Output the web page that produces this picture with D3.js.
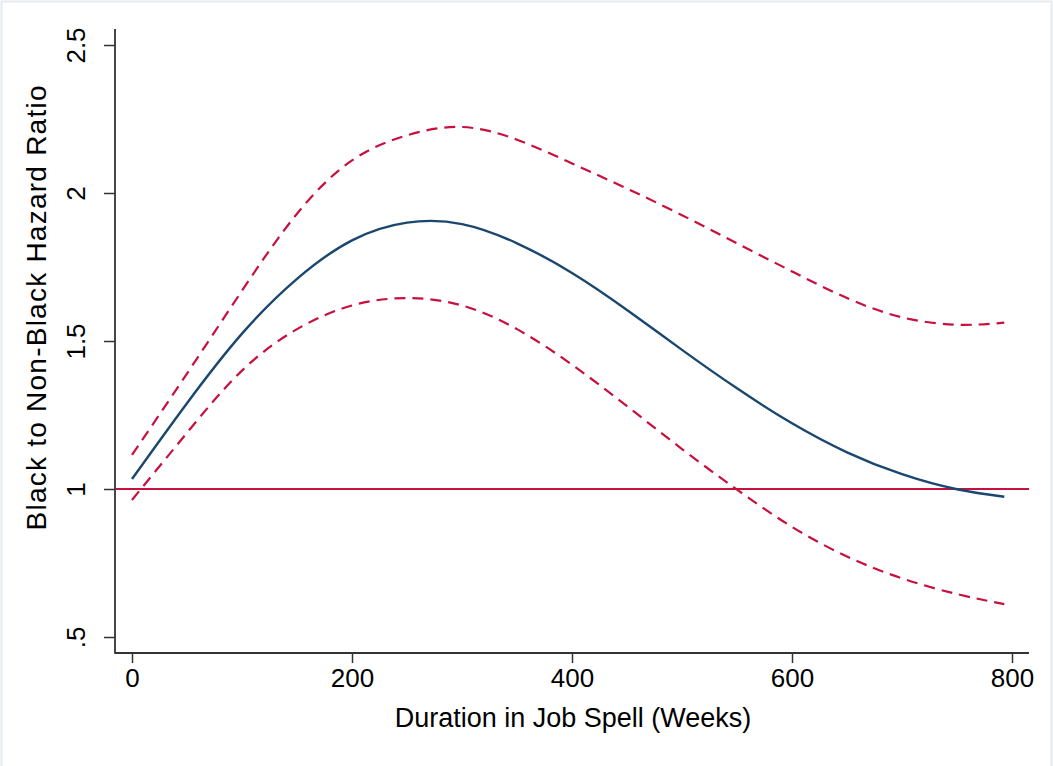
<!DOCTYPE html>
<html>
<head>
<meta charset="utf-8">
<script src="https://cdn.jsdelivr.net/npm/d3@7"></script>
<style>
  body { margin: 0; background: #ffffff; }
  text { font-family: Arial, "Liberation Sans", Helvetica, sans-serif; fill: #000; }
</style>
</head>
<body>
<svg class="chart"></svg>
<script>
// duration in job spell (weeks) and the estimated hazard ratio with its bounds
var weeks = [0, 50, 100, 150, 200, 250, 300, 350, 400, 450, 500, 550, 600, 650, 700, 750, 793];
var ratio = [1.034, 1.29, 1.525, 1.71, 1.84, 1.90, 1.895, 1.83, 1.73, 1.605, 1.47, 1.34, 1.222, 1.124, 1.05, 0.999, 0.974];
var upper = [1.115, 1.39, 1.67, 1.93, 2.11, 2.195, 2.223, 2.18, 2.10, 2.015, 1.925, 1.83, 1.735, 1.645, 1.58, 1.555, 1.562];
var lower = [0.963, 1.19, 1.40, 1.54, 1.62, 1.645, 1.62, 1.54, 1.42, 1.28, 1.135, 0.998, 0.872, 0.772, 0.698, 0.645, 0.611];

var xTicks = [0, 200, 400, 600, 800];
var yTicks = [0.5, 1, 1.5, 2, 2.5];
var yTickLabels = [".5", "1", "1.5", "2", "2.5"];
var refValue = 1;

var width = 1053;
var height = 766;

var blue = "#1a476f";
var red = "#c8103e";
var axisColor = "#333333";

var chart = d3.select(".chart")
    .attr("width", width)
    .attr("height", height);

// light outer frame (top, left and right edges show in the picture)
chart.append("path")
    .attr("d", "M1.5," + height + "V1.5H" + (width - 1.5) + "V" + height)
    .attr("fill", "none")
    .attr("stroke", "#e3ebef")
    .attr("stroke-width", 2);

var x = d3.scaleLinear()
    .domain([0, 800])
    .range([132, 1012]);

var y = d3.scaleLinear()
    .domain([0.5, 2.5])
    .range([637, 45]);

var plotLeft = 115;
var plotRight = 1029;
var plotTop = 29;
var plotBottom = 653;

// axes
var xAxis = d3.axisBottom(x)
    .tickValues(xTicks)
    .tickSize(10)
    .tickPadding(6)
    .tickFormat(d3.format("d"));

var yAxis = d3.axisLeft(y)
    .tickValues(yTicks)
    .tickSize(11)
    .tickFormat(function(d, i) { return yTickLabels[i]; });

var gx = chart.append("g")
    .attr("transform", "translate(0," + plotBottom + ")")
    .call(xAxis);

gx.select(".domain").remove();
gx.selectAll(".tick line").attr("stroke", axisColor).attr("stroke-width", 1.5);
gx.selectAll(".tick text")
    .attr("font-size", 26)
    .attr("font-family", "Arial, 'Liberation Sans', sans-serif")
    .attr("fill", "#000");

var gy = chart.append("g")
    .attr("transform", "translate(" + plotLeft + ",0)")
    .call(yAxis);

gy.select(".domain").remove();
gy.selectAll(".tick line").attr("stroke", axisColor).attr("stroke-width", 1.5);
gy.selectAll(".tick text")
    .attr("font-size", 26)
    .attr("font-family", "Arial, 'Liberation Sans', sans-serif")
    .attr("fill", "#000")
    .attr("text-anchor", "middle")
    .attr("x", null)
    .attr("dy", null)
    .attr("transform", "translate(-30,0) rotate(-90)");

// axis lines
chart.append("line")
    .attr("x1", plotLeft).attr("x2", plotLeft)
    .attr("y1", plotTop).attr("y2", plotBottom + 0.75)
    .attr("stroke", axisColor)
    .attr("stroke-width", 1.8);

chart.append("line")
    .attr("x1", plotLeft).attr("x2", plotRight)
    .attr("y1", plotBottom).attr("y2", plotBottom)
    .attr("stroke", axisColor)
    .attr("stroke-width", 1.8);

// reference line at ratio 1
chart.append("line")
    .attr("x1", plotLeft + 1).attr("x2", plotRight)
    .attr("y1", y(refValue)).attr("y2", y(refValue))
    .attr("stroke", red)
    .attr("stroke-width", 2.2);

var line = d3.line()
    .x(function(d) { return x(d[0]); })
    .y(function(d) { return y(d[1]); })
    .curve(d3.curveNatural);

function pairs(vals) {
    return weeks.map(function(w, i) { return [w, vals[i]]; });
}

chart.append("path")
    .datum(pairs(upper))
    .attr("d", line)
    .attr("fill", "none")
    .attr("stroke", red)
    .attr("stroke-width", 2.2)
    .attr("stroke-dasharray", "11,7");

chart.append("path")
    .datum(pairs(lower))
    .attr("d", line)
    .attr("fill", "none")
    .attr("stroke", red)
    .attr("stroke-width", 2.2)
    .attr("stroke-dasharray", "11,7");

chart.append("path")
    .datum(pairs(ratio))
    .attr("d", line)
    .attr("fill", "none")
    .attr("stroke", blue)
    .attr("stroke-width", 2.4);

// axis titles
chart.append("text")
    .attr("x", 573)
    .attr("y", 727)
    .attr("text-anchor", "middle")
    .attr("font-size", 27)
    .text("Duration in Job Spell (Weeks)");

chart.append("text")
    .attr("transform", "translate(46,308) rotate(-90)")
    .attr("text-anchor", "middle")
    .attr("font-size", 28)
    .attr("textLength", 445)
    .attr("lengthAdjust", "spacing")
    .text("Black to Non-Black Hazard Ratio");
</script>
</body>
</html>
